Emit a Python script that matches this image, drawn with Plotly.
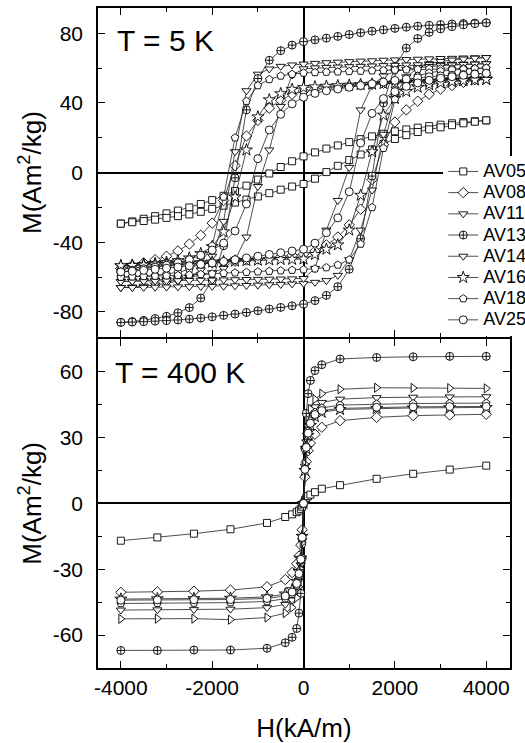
import plotly.graph_objects as go

# ---------------- data ----------------
# T = 5 K : descending branch (from +4000 to -4000) and ascending branch
H5_DOWN = [4000, 3750, 3500, 3250, 3000, 2750, 2500, 2250, 2000, 1750, 1500, 1250, 1000, 750, 500, 250, 0,
           -250, -500, -750, -1000, -1250, -1500, -1750, -2000, -2250, -2500, -2750, -3000, -3250, -3500, -3750, -4000]
H5_UP = [-4000, -3750, -3500, -3250, -3000, -2750, -2500, -2250, -2000, -1750, -1500, -1250, -1000, -750, -500, -250, 0,
         250, 500, 750, 1000, 1250, 1500, 1750, 2000, 2250, 2500, 2750, 3000, 3250, 3500, 3750, 4000]

AV05_5K_DOWN = [30, 29.5, 29, 28.3, 27.5, 26.7, 25.8, 24.8, 23.7, 22.3, 20.8, 19.2, 17.5, 15.6, 13.8, 11.6, 9.3,
                6.5, 3.2, -0.5, -4, -7.5, -10.5, -13.3, -15.8, -18, -20, -21.8, -23.4, -25, -26.5, -28, -29.3]
AV05_5K_UP = [-29.3, -28.5, -27.8, -27, -26, -25, -24, -22.5, -20.8, -19, -17.2, -15.5, -13.7, -11.8, -9.8, -8, -6.5,
              -3.5, 0.3, 3.9, 7.2, 10.4, 13.3, 16.5, 19.3, 21.5, 23.3, 24.8, 26, 27.2, 28.3, 29.2, 30]

AV08_5K_DOWN = [55, 54.7, 54.3, 54, 53.6, 53.2, 52.8, 52.3, 51.8, 51.3, 50.8, 50.3, 49.7, 49.1, 48.4, 47.7, 46.8,
                45, 41.5, 37, 30, 21, 4, -16, -29, -36, -41, -45, -48, -50, -51.8, -53.3, -55]
AV08_5K_UP = [-55, -54.7, -54.3, -54, -53.6, -53.2, -52.8, -52.3, -51.8, -51.3, -50.8, -50.2, -49.6, -49, -48.3, -47.5, -46.8,
              -45, -41.5, -37, -30, -21, -4, 16, 29, 36, 41, 45, 48, 50, 51.8, 53.3, 55]

AV11_5K_DOWN = [66, 65.9, 65.8, 65.6, 65.5, 65.3, 65.1, 64.9, 64.7, 64.5, 64.2, 64, 63.7, 63.4, 63.1, 62.7, 62.3,
                61.8, 61, 59.5, 56.5, 47, 12, -28, -48, -56, -60, -62.3, -63.6, -64.5, -65.2, -65.7, -66]
AV11_5K_UP = [-66, -66, -65.9, -65.8, -65.7, -65.6, -65.5, -65.4, -65.3, -65.2, -65, -64.8, -64.6, -64.4, -64.2, -63.9, -63.6,
              -63, -62, -59, -50, -33, -10, 22, 44, 55, 60, 62.5, 63.8, 64.6, 65.2, 65.7, 66]

AV13_5K_DOWN = [86, 85.8, 85.6, 85.3, 85, 84.6, 84.1, 83.5, 82.8, 82, 81.2, 80.3, 79.3, 78.2, 77.2, 76.2, 75.2,
                73.2, 70, 64.5, 54, 36, -3, -42, -62, -72, -77.5, -80.5, -82.5, -83.8, -84.8, -85.5, -86]
AV13_5K_UP = [-86, -85.8, -85.6, -85.3, -85, -84.6, -84.1, -83.5, -82.8, -82, -81.2, -80.3, -79.3, -78.3, -77.4, -76.5, -75.5,
              -73.5, -70.5, -65.5, -55.5, -38, -2, 40, 61, 71.5, 77, 80.5, 82.5, 83.8, 84.8, 85.5, 86]

AV14_5K_DOWN = [62.5, 62.4, 62.3, 62.2, 62.1, 62, 61.9, 61.8, 61.6, 61.4, 61.2, 61, 60.8, 60.6, 60.4, 60.1, 59.6,
                56, 38, 13, -8, -37, -50, -55, -57.5, -59, -60, -60.8, -61.3, -61.7, -62, -62.3, -62.5]
AV14_5K_UP = [-62.5, -62.4, -62.3, -62.2, -62.1, -62, -61.9, -61.8, -61.7, -61.6, -61.5, -61.4, -61.3, -61.2, -61.1, -61, -60.8,
              -55, -33, -16, 3, 36, 50, 55.5, 58, 59.3, 60.2, 60.9, 61.4, 61.8, 62.1, 62.3, 62.5]

AV16_5K_DOWN = [53.5, 53.3, 53.1, 52.9, 52.6, 52.3, 52, 51.7, 51.4, 51.1, 50.8, 50.5, 50.2, 49.9, 49.6, 49.2, 48.8,
                47.8, 45.3, 41.8, 32, 13, -14, -34, -42.5, -46.5, -49, -50.5, -51.5, -52.2, -52.8, -53.2, -53.5]
AV16_5K_UP = [-53.5, -53.3, -53.1, -52.9, -52.6, -52.3, -52, -51.7, -51.4, -51.1, -50.8, -50.5, -50.3, -50.1, -49.9, -49.8, -49.6,
              -47, -44, -41.5, -33, -13, 12, 33, 42.5, 46.5, 49, 50.5, 51.5, 52.2, 52.8, 53.2, 53.5]

AV18_5K_DOWN = [60, 59.9, 59.8, 59.7, 59.6, 59.5, 59.3, 59.1, 58.9, 58.7, 58.5, 58.3, 58.1, 57.9, 57.7, 57.5, 57.2,
                56.5, 55.5, 53.5, 50, 41, 20, -14, -42, -52, -55.5, -57.3, -58.3, -59, -59.4, -59.7, -60]
AV18_5K_UP = [-60, -59.8, -59.6, -59.4, -59.2, -59, -58.7, -58.4, -58.1, -57.8, -57.5, -57.2, -56.9, -56.6, -56.3, -56, -55.7,
              -55.2, -54.5, -53, -50, -41, -20, 14, 42, 52, 55.5, 57.3, 58.3, 59, 59.4, 59.7, 60]

AV25_5K_DOWN = [57, 56.7, 56.3, 55.9, 55.5, 55, 54.4, 53.7, 52.9, 52, 51, 50, 49, 48, 47, 45.5, 43.3,
                39.5, 33.5, 24.5, 8, -18, -33.5, -40.5, -44.5, -47.5, -50, -51.8, -53.2, -54.3, -55.2, -56, -57]
AV25_5K_UP = [-57, -56.6, -56.1, -55.5, -54.9, -54.2, -53.5, -52.7, -51.9, -51, -50, -49, -48, -47, -46, -45, -44,
              -40.5, -34.5, -26, -11, 17, 34, 42.5, 46.5, 49.5, 51.5, 53, 54.2, 55.1, 55.9, 56.5, 57]

# T = 400 K
H400 = [-4000, -3200, -2400, -1600, -800, -400, -250, -150, -100, -60, -30, 0,
        30, 60, 100, 150, 250, 400, 800, 1600, 2400, 3200, 4000]
AV05_400K = [-17, -15.5, -13.8, -11.8, -8.9, -6.2, -5, -4, -3.3, -2.5, -1.5, 0,
             1.5, 2.5, 3.3, 4, 5.1, 6.7, 8.3, 11.2, 13.5, 15.4, 17.2]
AV08_400K = [-40.5, -40.3, -40, -39.5, -38, -34.7, -31.5, -27.5, -24, -19, -12, 0,
             12, 19, 24, 27.5, 31.5, 34.7, 37.7, 39.2, 40, 40.3, 40.6]
AV11_400K = [-48.6, -48.5, -48.4, -48.2, -47.5, -46, -44, -40, -35, -28, -17, 0,
             17, 28, 35, 40, 44, 46, 47.5, 48.2, 48.4, 48.5, 48.6]
AV13_400K = [-67, -67, -66.8, -66.8, -66, -63.5, -61, -57, -50, -41, -25, 0,
             25, 41, 50, 56, 60.5, 63.2, 65.8, 66.5, 66.8, 67, 67]
AV14_400K = [-52.6, -52.5, -52.5, -53, -52, -50, -47.5, -43, -38, -30, -18, 0,
             18, 30, 38, 43, 47.5, 50, 52, 52.7, 52.6, 52.5, 52.4]
AV16_400K = [-43.6, -43.5, -43.4, -43.2, -42.6, -41.3, -39.3, -35.5, -31, -25, -15, 0,
             15, 25, 31, 35.5, 39.5, 41.5, 42.8, 43.3, 43.5, 43.6, 43.7]
AV18_400K = [-45.6, -45.5, -45.4, -45.2, -44.7, -43.4, -41.4, -37.5, -33, -26, -16, 0,
             16, 26, 33, 37.5, 41.5, 43.5, 44.8, 45.3, 45.5, 45.6, 45.7]
AV25_400K = [-44.1, -44, -43.9, -43.8, -43.3, -42.2, -40.4, -36.5, -32, -25.5, -15.5, 0,
             15.5, 25.5, 32, 36.5, 40.5, 42.3, 43.3, 43.8, 44, 44.1, 44.2]

# tick labels
X_TICKS = [-4000, -2000, 0, 2000, 4000]
X_TICK_LABELS = ["-4000", "-2000", "0", "2000", "4000"]
Y5_TICKS = [-80, -40, 0, 40, 80]
Y5_TICK_LABELS = ["-80", "-40", "0", "40", "80"]
Y400_TICKS = [-60, -30, 0, 30, 60]
Y400_TICK_LABELS = ["-60", "-30", "0", "30", "60"]

SAMPLES = ["AV05", "AV08", "AV11", "AV13", "AV14", "AV16", "AV18", "AV25"]
LOOPS_5K = [(AV05_5K_DOWN, AV05_5K_UP), (AV08_5K_DOWN, AV08_5K_UP), (AV11_5K_DOWN, AV11_5K_UP),
            (AV13_5K_DOWN, AV13_5K_UP), (AV14_5K_DOWN, AV14_5K_UP), (AV16_5K_DOWN, AV16_5K_UP),
            (AV18_5K_DOWN, AV18_5K_UP), (AV25_5K_DOWN, AV25_5K_UP)]
CURVES_400K = [AV05_400K, AV08_400K, AV11_400K, AV13_400K, AV14_400K, AV16_400K, AV18_400K, AV25_400K]
SYMBOLS_5K = ["square", "diamond", "triangle-down", "circle-cross", "triangle-down", "star", "pentagon", "circle"]
SYMBOLS_400K = ["square", "diamond", "triangle-down", "circle-cross", "triangle-right", "star", "pentagon", "circle"]
SIZES = [7, 8, 8, 8, 8, 9, 8, 8]

FONT = "Arial, Liberation Sans, sans-serif"

fig = go.Figure()
for name, (dn, up), sym, sz in zip(SAMPLES, LOOPS_5K, SYMBOLS_5K, SIZES):
    fig.add_trace(go.Scatter(
        x=H5_DOWN + H5_UP, y=dn + up,
        name="<span style='font-size:18px'>" + name + "</span>", mode="lines+markers",
        xaxis="x2", yaxis="y2",
        line=dict(color="#222222", width=0.8),
        marker=dict(symbol=sym, size=sz, color="white", line=dict(color="black", width=0.9)),
        showlegend=True))
for name, m, sym, sz in zip(SAMPLES, CURVES_400K, SYMBOLS_400K, SIZES):
    fig.add_trace(go.Scatter(
        x=H400, y=m, name=name, mode="lines+markers",
        xaxis="x", yaxis="y",
        line=dict(color="#222222", width=0.8),
        marker=dict(symbol=sym, size=sz, color="white", line=dict(color="black", width=0.9)),
        showlegend=False))

axis_common = dict(showgrid=False, zeroline=True, zerolinecolor="black", zerolinewidth=1.6,
                   showline=True, linecolor="black", linewidth=1.6, mirror="ticks",
                   ticks="inside", ticklen=7, tickwidth=1.3, tickcolor="black",
                   tickfont=dict(family=FONT, size=21, color="black"))
minor_common = dict(tickmode="linear", ticks="inside", ticklen=4, tickwidth=1.3, tickcolor="black")

fig.update_layout(
    width=525, height=743,
    margin=dict(l=98, r=15, t=8, b=75, autoexpand=False),
    paper_bgcolor="white", plot_bgcolor="white",
    font=dict(family=FONT, color="black"),
    xaxis=dict(axis_common, domain=[0, 1], anchor="y", range=[-4500, 4520],
               tickmode="array", tickvals=X_TICKS, ticktext=X_TICK_LABELS,
               minor=dict(minor_common, dtick=1000, tick0=0),
               title=dict(text="H(kA/m)", font=dict(family=FONT, size=26, color="black"), standoff=24)),
    xaxis2=dict(axis_common, domain=[0, 1], anchor="y2", matches="x", range=[-4500, 4520],
                tickmode="array", tickvals=X_TICKS, ticktext=X_TICK_LABELS,
                showticklabels=False,
                minor=dict(minor_common, dtick=1000, tick0=0)),
    yaxis=dict(axis_common, domain=[0, 0.4988], anchor="x", range=[-75, 75],
               tickmode="array", tickvals=Y400_TICKS, ticktext=Y400_TICK_LABELS,
               ticklabelstandoff=9,
               minor=dict(minor_common, dtick=15, tick0=0),
               title=dict(text="M(Am<sup>2</sup>/kg)", font=dict(family=FONT, size=26, color="black"), standoff=4)),
    yaxis2=dict(axis_common, domain=[0.5012, 1], anchor="x2", range=[-94.5, 94.5],
                tickmode="array", tickvals=Y5_TICKS, ticktext=Y5_TICK_LABELS,
                ticklabelstandoff=9,
                minor=dict(minor_common, dtick=20, tick0=0),
                title=dict(text="M(Am<sup>2</sup>/kg)", font=dict(family=FONT, size=26, color="black"), standoff=4)),
    legend=dict(x=0.838, y=0.776, xanchor="left", yanchor="top", bgcolor="white", borderwidth=0,
                font=dict(family=FONT, size=14, color="black"), tracegroupgap=0),
    annotations=[
        dict(text="T = 5 K", xref="paper", yref="paper", x=0.041, y=0.951, xanchor="left", yanchor="middle",
             showarrow=False, font=dict(family=FONT, size=30, color="black")),
        dict(text="T = 400 K", xref="paper", yref="paper", x=0.037, y=0.447, xanchor="left", yanchor="middle",
             showarrow=False, font=dict(family=FONT, size=30, color="black")),
    ],
)

fig.write_html("out.html")
